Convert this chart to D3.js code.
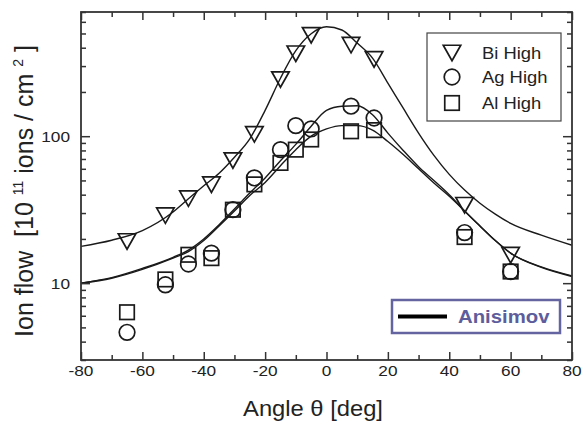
<!DOCTYPE html>
<html><head><meta charset="utf-8">
<script src="https://cdn.jsdelivr.net/npm/d3@7"></script>
<style>
html,body{margin:0;padding:0;background:#fff;}
svg{display:block;}
text{font-family:"Liberation Sans",Arial,Helvetica,sans-serif;fill:#222;}
</style></head>
<body><svg id="c" width="582" height="425"></svg>
<script>
// ---- data ----
const angles = [-65, -52.5, -45, -37.5, -30.5, -23.5, -15, -10, -5, 8, 15.5, 45, 60];
const biHigh = [19.2, 28.8, 37.6, 46.8, 68.3, 103, 243, 364, 486, 417, 333, 33.9, 15.5];
const agHigh = [4.63, 9.75, 13.5, 16.0, 31.6, 52, 81, 118, 112, 160, 133, 22.1, 12.0];
const alHigh = [6.34, 10.6, 15.6, 14.8, 31.6, 47, 65.8, 81, 95, 108, 110, 20.6, 12.0];

// Anisimov model curves
const curveAngles = [-80,-70,-60,-50,-45,-40,-35,-30,-25,-20,-15,-10,-5,0,5,10,15,20,25,30,35,40,45,50,55,60,70,80];
const biCurve = [17.8,19.6,22.8,30.5,37.5,46,56,72,96,150,248,382,498,555,528,430,340,230,155,105,74,55,43,35,29.5,25.5,21.2,18.1];
const agCurve = [10.0,10.9,12.6,15.0,16.8,20,25,32,41,52,68,88,117,150,160,161,140,105,80,62,50,40,31,24.5,19.5,16,12.9,11.2];
const alCurve = [10.0,10.8,12.4,14.8,16.4,19.5,24.5,31,39.5,48.5,63,81,100,112,118,118,110,92,75,60,48,39,31,24.5,19.5,16,12.8,11.1];

const xMajor = [-80,-60,-40,-20,0,20,40,60,80];
const xMinor = [-70,-50,-30,-10,10,30,50,70];
const yMajor = [10,100];
const yMinor = [3,4,5,6,7,8,9,20,30,40,50,60,70,80,90,200,300,400,500,600,700];
const seriesNames = ["Bi High","Ag High","Al High"];

// ---- layout ----
const L = 81, R = 572, T = 12, B = 360;
const svg = d3.select("#c");
const x = d3.scaleLinear().domain([-80,80]).range([L,R]);
const y = d3.scaleLog().domain([3,700]).range([B,T]);
const ink = "#1a1a1a";

function stext(g, tx, ty, str, size, sx, anchor, weight, color){
  return g.append("text")
    .attr("transform", `translate(${tx},${ty}) scale(${sx},1)`)
    .attr("text-anchor", anchor || "start")
    .style("font-size", size + "px")
    .style("font-weight", weight || "normal")
    .style("fill", color || "#222")
    .text(str);
}

// curves
const line = d3.line().x(d=>x(d[0])).y(d=>y(d[1])).curve(d3.curveMonotoneX);
[biCurve, agCurve, alCurve].forEach(c=>{
  svg.append("path").datum(curveAngles.map((a,i)=>[a,c[i]]))
    .attr("d", line).attr("fill","none").attr("stroke", ink).attr("stroke-width",1.4);
});

// markers
function tri(g, cx, cy){
  const w = 17.5, h = 15.5;
  g.append("path").attr("d", `M${cx-w/2},${cy-h/2}L${cx+w/2},${cy-h/2}L${cx},${cy+h/2}Z`)
   .attr("fill","none").attr("stroke",ink).attr("stroke-width",1.7);
}
function circ(g, cx, cy){
  g.append("circle").attr("cx",cx).attr("cy",cy).attr("r",7.8)
   .attr("fill","none").attr("stroke",ink).attr("stroke-width",1.7);
}
function sq(g, cx, cy){
  const s = 14.5;
  g.append("rect").attr("x",cx-s/2).attr("y",cy-s/2).attr("width",s).attr("height",s)
   .attr("fill","none").attr("stroke",ink).attr("stroke-width",1.7);
}
const mg = svg.append("g");
angles.forEach((a,i)=>{ sq(mg, x(a), y(alHigh[i])); });
angles.forEach((a,i)=>{ circ(mg, x(a), y(agHigh[i])); });
angles.forEach((a,i)=>{ tri(mg, x(a), y(biHigh[i])); });

// axes (ticks inward on all four sides)
const axG = svg.append("g");
axG.append("g").attr("transform",`translate(0,${B})`).call(d3.axisBottom(x).tickValues(xMajor).tickSize(-8).tickFormat(""));
axG.append("g").attr("transform",`translate(0,${B})`).call(d3.axisBottom(x).tickValues(xMinor).tickSize(-5).tickFormat(""));
axG.append("g").attr("transform",`translate(0,${T})`).call(d3.axisTop(x).tickValues(xMajor).tickSize(-8).tickFormat(""));
axG.append("g").attr("transform",`translate(0,${T})`).call(d3.axisTop(x).tickValues(xMinor).tickSize(-5).tickFormat(""));
axG.append("g").attr("transform",`translate(${L},0)`).call(d3.axisLeft(y).tickValues(yMajor).tickSize(-9).tickFormat(""));
axG.append("g").attr("transform",`translate(${L},0)`).call(d3.axisLeft(y).tickValues(yMinor).tickSize(-5).tickFormat(""));
axG.append("g").attr("transform",`translate(${R},0)`).call(d3.axisRight(y).tickValues(yMajor).tickSize(-9).tickFormat(""));
axG.append("g").attr("transform",`translate(${R},0)`).call(d3.axisRight(y).tickValues(yMinor).tickSize(-5).tickFormat(""));
axG.selectAll(".domain").remove();
axG.selectAll(".tick line").attr("stroke","#333").attr("stroke-width",1.5);
svg.append("rect").attr("x",L).attr("y",T).attr("width",R-L).attr("height",B-T)
  .attr("fill","none").attr("stroke","#333").attr("stroke-width",1.8);

// tick labels
const lab = svg.append("g");
xMajor.forEach(v=>{ stext(lab, x(v), B+16, String(v), 15, 1.15, "middle"); });
yMajor.forEach(v=>{ stext(lab, L-11, y(v)+5.5, String(v), 15, 1.15, "end"); });

// axis titles
stext(svg, 313, 416, "Angle θ [deg]", 22, 1.08, "middle");
const yt = svg.append("text")
  .attr("transform","translate(33,191) rotate(-90)")
  .attr("text-anchor","middle")
  .style("font-size","25px").style("white-space","pre");
yt.append("tspan").text("Ion flow  [10 ");
yt.append("tspan").attr("dy",-10).style("font-size","14px").text("11");
yt.append("tspan").attr("dy",10).text(" ions / cm ");
yt.append("tspan").attr("dy",-10).style("font-size","14px").text("2");
yt.append("tspan").attr("dy",10).text(" ]");

// legend
const lg = svg.append("g");
lg.append("rect").attr("x",427).attr("y",33).attr("width",134).attr("height",88)
  .attr("fill","#fff").attr("stroke","#444").attr("stroke-width",1.2);
const rows = [53, 77, 103];
tri(lg, 452, rows[0]); circ(lg, 452, rows[1]); sq(lg, 452, rows[2]);
seriesNames.forEach((n,i)=>{ stext(lg, 482, rows[i]+6, n, 16, 1.15, "start"); });

// Anisimov box
const ab = svg.append("g");
ab.append("rect").attr("x",392).attr("y",300).attr("width",168).attr("height",33)
  .attr("fill","#fff").attr("stroke","#6464a0").attr("stroke-width",2.5);
ab.append("line").attr("x1",398).attr("x2",447).attr("y1",316.5).attr("y2",316.5)
  .attr("stroke","#000").attr("stroke-width",4);
stext(ab, 458, 323, "Anisimov", 18, 1.13, "start", "bold", "#5d5d9c");
</script></body></html>
